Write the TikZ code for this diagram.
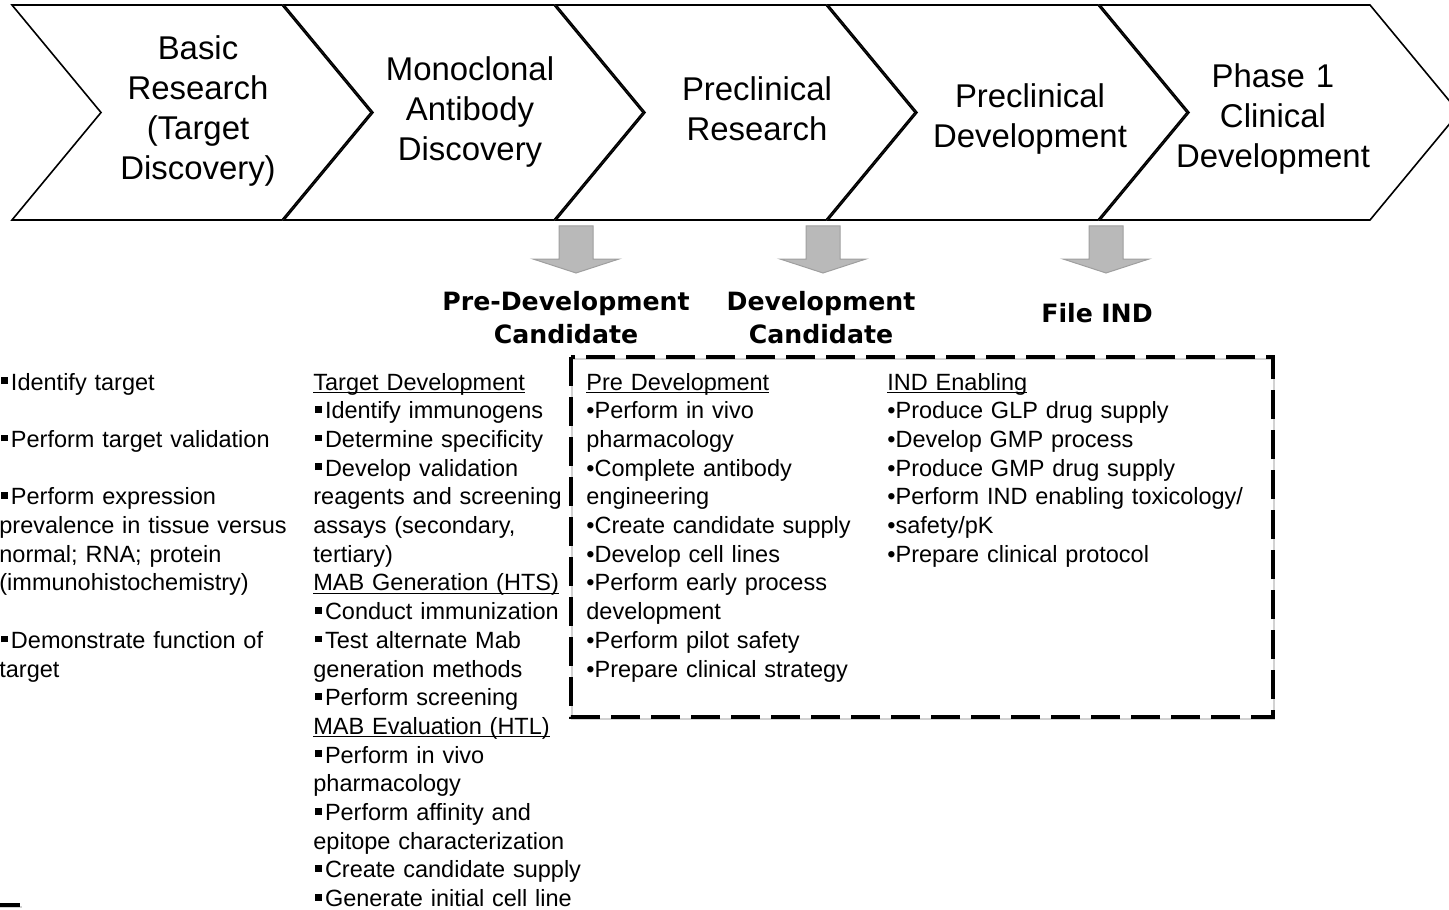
\documentclass[tikz,border=0pt]{standalone}
\usepackage{fontspec}
\setmainfont{Liberation Sans}
\newfontfamily\labelfont{DejaVu Sans}
\usetikzlibrary{positioning}

\newsavebox\headbox
\newcommand\heading[1]{\leavevmode\sbox\headbox{#1}%
  \rlap{\rule[-1.4pt]{\wd\headbox}{0.55pt}}\usebox\headbox}
\newcommand\sqbul{\leavevmode\hspace{1pt}\rule[3pt]{3.2pt}{3.4pt}\hspace{1.6pt}}

\begin{document}
\begin{tikzpicture}[x=0.5pt,y=-0.5pt,
    stage/.style={font={\fontsize{16.45}{20}\selectfont}, align=center,
                  text width=125pt, inner sep=0pt, anchor=base},
    milestone/.style={font={\labelfont\bfseries\fontsize{12.6}{16.5}\selectfont},
                  align=center, text width=140pt, inner sep=0pt, anchor=base},
    tasks/.style={font={\fontsize{11.75}{14.35}\selectfont}, align=left,
                  text width=200pt, inner sep=0pt, anchor=base west},
    chevron/.style={draw=black, line width=0.8pt},
    gatearrow/.style={fill=gray!55, draw=gray!75, line width=0.5pt},
    dashbox/.style={draw=black, line width=2pt, dash pattern=on 14.5pt off 5.5pt},
    dashshade/.style={draw=gray!35, line width=0.8pt}]
  \useasboundingbox (0,0) rectangle (1449,909);

  % process chevrons
  \foreach \x in {12,284,556,828,1100}
    \draw[chevron] (\x,5) -- ++(270,0) -- ++(89,107.5) -- ++(-89,107.5)
                   -- ++(-270,0) -- ++(89,-107.5) -- cycle;

  \node[stage] (basic)  at (198,60)  {Basic\\Research\\(Target\\Discovery)};
  \node[stage] (mab)    at (470,81)  {Monoclonal\\Antibody\\Discovery};
  \node[stage] (preres) at (757,101) {Preclinical\\Research};
  \node[stage] (predev) at (1030,108) {Preclinical\\Development};
  \node[stage] (phase)  at (1273,88) {Phase 1\\Clinical\\Development};

  % milestone arrows
  \foreach \x in {576,823,1106}
    \draw[gatearrow] (\x-17,226) -- (\x+17,226) -- (\x+17,259) -- (\x+43,259)
                     -- (\x,273) -- (\x-43,259) -- (\x-17,259) -- cycle;

  \node[milestone] (precand) at (566,310)  {Pre-Development\\Candidate};
  \node[milestone] (devcand) at (821,310)  {Development\\Candidate};
  \node[milestone] (ind)     at (1097,322) {File IND};

  % dashed frame
  \draw[dashshade] (572,359) rectangle (1274,719);
  \draw[dashbox] (571,357) rectangle (1273,717);
  \draw[dashshade] (0,907) -- (22,907);
  \draw[dashbox] (0,904.5) -- (20,904.5);

  % task lists
  \node[tasks] (basictasks) at (-1,390) {\sqbul Identify target\\[14.35pt]%
    \sqbul Perform target validation\\[14.35pt]%
    \sqbul Perform expression\\prevalence in tissue versus\\normal; RNA; protein\\%
    (immunohistochemistry)\\[14.35pt]%
    \sqbul Demonstrate function of\\target};
  \node[tasks] (mabtasks) at (313,390) {\heading{Target Development}\\%
    \sqbul Identify immunogens\\\sqbul Determine specificity\\\sqbul Develop validation\\%
    reagents and screening\\assays (secondary,\\tertiary)\\%
    \heading{MAB Generation (HTS)}\\\sqbul Conduct immunization\\%
    \sqbul Test alternate Mab\\generation methods\\\sqbul Perform screening\\%
    \heading{MAB Evaluation (HTL)}\\\sqbul Perform in vivo\\pharmacology\\%
    \sqbul Perform affinity and\\epitope characterization\\%
    \sqbul Create candidate supply\\\sqbul Generate initial cell line};
  \node[tasks] (pretasks) at (586,390) {\heading{Pre Development}\\%
    •Perform in vivo\\pharmacology\\•Complete antibody\\engineering\\%
    •Create candidate supply\\•Develop cell lines\\•Perform early process\\%
    development\\•Perform pilot safety\\•Prepare clinical strategy};
  \node[tasks] (indtasks) at (887,390) {\heading{IND Enabling}\\%
    •Produce GLP drug supply\\•Develop GMP process\\•Produce GMP drug supply\\%
    •Perform IND enabling toxicology/\\•safety/pK\\•Prepare clinical protocol};
\end{tikzpicture}
\end{document}
